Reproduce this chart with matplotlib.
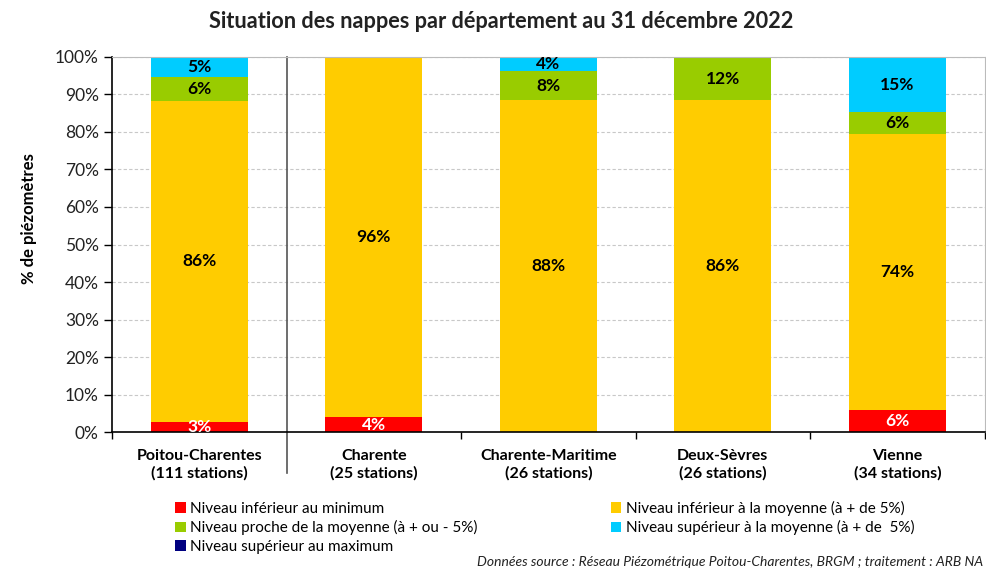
import matplotlib
matplotlib.use("Agg")
import matplotlib.pyplot as plt
import numpy as np
from matplotlib.patches import Patch

plt.rcParams['font.family'] = ['Lato', 'DejaVu Sans']

# data (% of piezometers per department)
categories = ["Poitou-Charentes\n(111 stations)", "Charente\n(25 stations)",
              "Charente-Maritime\n(26 stations)", "Deux-Sèvres\n(26 stations)",
              "Vienne\n(34 stations)"]
series_names = ["Niveau inférieur au minimum",
                "Niveau inférieur à la moyenne (à + de 5%)",
                "Niveau proche de la moyenne (à + ou - 5%)",
                "Niveau supérieur à la moyenne (à + de  5%)",
                "Niveau supérieur au maximum"]
colors = ["#FF0000", "#FFCC00", "#99CC00", "#00CCFF", "#000080"]

v_min = [2.7, 4.0, 0.0, 0.0, 5.9]
v_below = [85.6, 96.0, 88.5, 88.5, 73.5]
v_near = [6.3, 0.0, 7.7, 11.5, 5.9]
v_above = [5.4, 0.0, 3.8, 0.0, 14.7]
v_max = [0.0, 0.0, 0.0, 0.0, 0.0]

lab_min = ["3%", "4%", "", "", "6%"]
lab_below = ["86%", "96%", "88%", "86%", "74%"]
lab_near = ["6%", "", "8%", "12%", "6%"]
lab_above = ["5%", "", "4%", "", "15%"]
lab_max = ["", "", "", "", ""]

series = [v_min, v_below, v_near, v_above, v_max]
labels = [lab_min, lab_below, lab_near, lab_above, lab_max]
label_colors = ["white", "black", "black", "black", "white"]

fig = plt.figure(figsize=(9.86, 5.71), dpi=100)
ax = fig.add_axes([0.1136, 0.2434, 0.885, 0.6568])

x = np.arange(len(categories))
bottom = np.zeros(len(categories))
for vals, labs, col, lc in zip(series, labels, colors, label_colors):
    vals = np.array(vals)
    ax.bar(x, vals, bottom=bottom, width=0.555, color=col, zorder=2)
    for xi, b, v, t in zip(x, bottom, vals, labs):
        if t:
            ax.text(xi, b + v / 2, t, ha='center', va='center', color=lc,
                    fontsize=12.5, fontweight='bold', clip_on=True, zorder=3)
    bottom += vals

ax.set_xlim(-0.5, 4.5)
ax.set_ylim(0, 100)
ax.set_yticks(np.arange(0, 101, 10))
ax.set_yticklabels([f"{v}%" for v in range(0, 101, 10)], fontsize=12.5, color="#222222")
ax.yaxis.grid(True, linestyle=(0, (3, 2)), color="#c8c8c8", linewidth=0.8, zorder=0)
ax.set_axisbelow(True)

ax.set_xticks(x)
ax.set_xticklabels(categories, fontsize=11.5, fontweight='bold', linespacing=1.3)
ax.tick_params(axis='x', which='major', length=0, pad=12)
ax.set_xticks([-0.5, 1.5, 2.5, 3.5, 4.5], minor=True)
ax.tick_params(axis='x', which='minor', length=5, width=1, color='black')
ax.tick_params(axis='y', length=6, width=1, color='black', direction='out')

for s in ['top', 'right']:
    ax.spines[s].set_color("#bbbbbb")
ax.spines['left'].set_linewidth(1.2)
ax.spines['bottom'].set_linewidth(1.2)

# separator between region and departments
ax.plot([0.5, 0.5], [-11, 100], color="#555555", linewidth=1.2, clip_on=False, zorder=1)

ax.set_ylabel("% de piézomètres", fontsize=12, fontweight='bold')
ax.yaxis.set_label_coords(-0.086, 0.57)

fig.text(0.508, 0.962, "Situation des nappes par département au 31 décembre 2022",
         ha='center', va='center', fontsize=15.7, fontweight='bold', color="#222222")

handles = [Patch(facecolor=c) for c in colors]
order = [0, 2, 4, 1, 3]
leg = fig.legend([handles[i] for i in order], [series_names[i] for i in order],
                 ncol=2, loc='upper left', bbox_to_anchor=(0.1775, 0.123),
                 frameon=False, fontsize=11, handlelength=0.7, handleheight=0.7,
                 handletextpad=0.3, labelspacing=0.3, columnspacing=8.7,
                 borderaxespad=0, borderpad=0)

fig.text(0.484, 0.005, "Données source : Réseau Piézométrique Poitou-Charentes, BRGM ; traitement : ARB NA",
         ha='left', va='bottom', fontsize=10, style='italic', color="#222222")

fig.savefig("out.png", dpi=100)
